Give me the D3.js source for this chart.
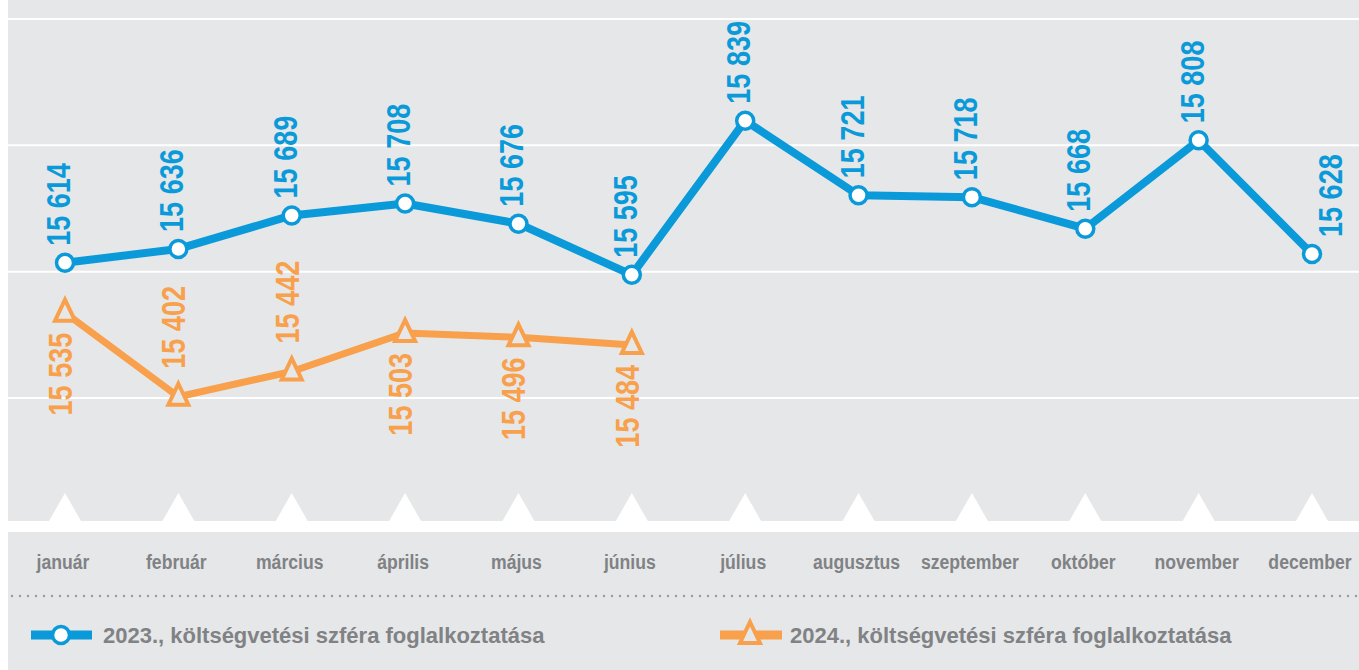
<!DOCTYPE html>
<html>
<head>
<meta charset="utf-8">
<script src="https://cdn.jsdelivr.net/npm/d3@7"></script>
<style>
  html, body { margin: 0; padding: 0; background: #fff; }
  svg { display: block; }
  text { font-family: "Liberation Sans", Arial, sans-serif; font-weight: bold; }
</style>
</head>
<body>
<svg id="chart"></svg>
<script>
var months = ["január", "február", "március", "április", "május", "június",
              "július", "augusztus", "szeptember", "október", "november", "december"];
var values2023 = [15614, 15636, 15689, 15708, 15676, 15595, 15839, 15721, 15718, 15668, 15808, 15628];
var values2024 = [15535, 15402, 15442, 15503, 15496, 15484];
var gridTicks = [15400, 15600, 15800, 16000];
var seriesNames = ["2023., költségvetési szféra foglalkoztatása", "2024., költségvetési szféra foglalkoztatása"];

// which side the 2024 labels go
var side2024 = ["below", "above", "above", "below", "below", "below"];

var width = 1359, height = 670;
var blue = "#0a9ad9", orange = "#f8a04b", bg = "#e6e7e8", grey = "#808285";
var narrow = " scale(0.82,1)"; // squeeze Liberation Sans to a narrow face

var svg = d3.select("#chart")
    .attr("width", width)
    .attr("height", height);

// backgrounds
svg.append("rect").attr("x", 8).attr("y", 0).attr("width", width - 8).attr("height", 521).attr("fill", bg);
svg.append("rect").attr("x", 8).attr("y", 532).attr("width", width - 8).attr("height", height - 532).attr("fill", bg);

var x = d3.scalePoint()
    .domain(months)
    .range([65, 1312]);

var y = d3.scaleLinear()
    .domain([15400, 16000])
    .range([398, 19]);

// gridlines
svg.append("g").selectAll("line")
    .data(gridTicks)
    .join("line")
    .attr("x1", 8)
    .attr("x2", width)
    .attr("y1", d => y(d))
    .attr("y2", d => y(d))
    .attr("stroke", "#fff")
    .attr("stroke-width", 2);

// white tick triangles
svg.append("g").selectAll("path")
    .data(months)
    .join("path")
    .attr("d", d => "M" + (x(d) - 16) + ",521L" + x(d) + ",493L" + (x(d) + 16) + ",521Z")
    .attr("fill", "#fff");

// month labels
svg.append("g").selectAll("text")
    .data(months)
    .join("text")
    .attr("transform", d => "translate(" + (x(d) - 2) + ",569) scale(0.86,1)")
    .attr("text-anchor", "middle")
    .attr("fill", grey)
    .style("font-size", "20.5px")
    .text(d => d);

// dotted separator
svg.append("line")
    .attr("x1", 12).attr("x2", width)
    .attr("y1", 596).attr("y2", 596)
    .attr("stroke", "#9a9b9d")
    .attr("stroke-width", 2.4)
    .attr("stroke-linecap", "round")
    .attr("stroke-dasharray", "0,8");

var fmt = d3.formatLocale({decimal: ",", thousands: " ", grouping: [3], currency: ["", ""]}).format(",d");

var line = d3.line()
    .x((d, i) => x(months[i]))
    .y(d => y(d));

var tri = "M0,-13L10,8L-10,8Z";

// 2024 series
svg.append("path")
    .datum(values2024)
    .attr("d", line)
    .attr("fill", "none")
    .attr("stroke", orange)
    .attr("stroke-width", 7)
    .attr("stroke-linejoin", "round");

svg.append("g").selectAll("path")
    .data(values2024)
    .join("path")
    .attr("transform", (d, i) => "translate(" + x(months[i]) + "," + y(d) + ")")
    .attr("d", tri)
    .attr("fill", bg)
    .attr("stroke", orange)
    .attr("stroke-width", 4)
    .attr("stroke-linejoin", "miter");

svg.append("g").selectAll("text")
    .data(values2024)
    .join("text")
    .attr("transform", (d, i) => {
        var px = x(months[i]) + 7, py = side2024[i] == "above" ? y(d) - 28 : y(d) + 20;
        return "translate(" + px + "," + py + ") rotate(-90)" + narrow;
    })
    .attr("text-anchor", (d, i) => side2024[i] == "above" ? "start" : "end")
    .attr("fill", orange)
    .style("font-size", "33px")
    .text(d => fmt(d));

// 2023 series
svg.append("path")
    .datum(values2023)
    .attr("d", line)
    .attr("fill", "none")
    .attr("stroke", blue)
    .attr("stroke-width", 8)
    .attr("stroke-linejoin", "round");

svg.append("g").selectAll("circle")
    .data(values2023)
    .join("circle")
    .attr("cx", (d, i) => x(months[i]))
    .attr("cy", d => y(d))
    .attr("r", 8.5)
    .attr("fill", "#fff")
    .attr("stroke", blue)
    .attr("stroke-width", 3.5);

svg.append("g").selectAll("text")
    .data(values2023)
    .join("text")
    .attr("transform", (d, i) => {
        var last = i == values2023.length - 1;
        var px = x(months[i]) + (last ? 30 : 5), py = y(d) - 17;
        return "translate(" + px + "," + py + ") rotate(-90)" + narrow;
    })
    .attr("fill", blue)
    .style("font-size", "33px")
    .text(d => fmt(d));

// legend
var leg1 = svg.append("g").attr("transform", "translate(31,635)");
leg1.append("line").attr("x1", 0).attr("x2", 61).attr("stroke", blue).attr("stroke-width", 9);
leg1.append("circle").attr("cx", 30).attr("r", 8.5).attr("fill", "#fff").attr("stroke", blue).attr("stroke-width", 3.5);
leg1.append("text").attr("x", 72).attr("y", 8).attr("fill", grey).style("font-size", "22px").text(seriesNames[0]);

var leg2 = svg.append("g").attr("transform", "translate(720,635)");
leg2.append("line").attr("x1", 0).attr("x2", 62).attr("stroke", orange).attr("stroke-width", 9);
leg2.append("path").attr("transform", "translate(30,0)").attr("d", tri).attr("fill", bg).attr("stroke", orange).attr("stroke-width", 4);
leg2.append("text").attr("x", 70).attr("y", 8).attr("fill", grey).style("font-size", "22px").text(seriesNames[1]);
</script>
</body>
</html>
